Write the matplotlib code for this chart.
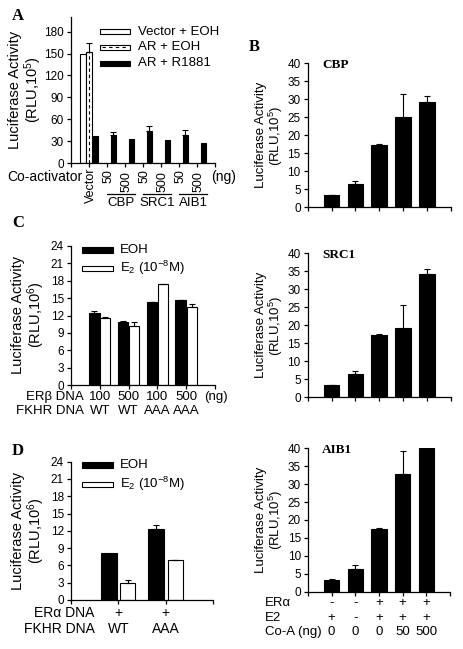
import matplotlib
matplotlib.use('Agg')
import matplotlib.pyplot as plt
from matplotlib.patches import Rectangle

plt.rcParams['font.family'] = ['Liberation Sans', 'DejaVu Sans']
plt.rcParams['mathtext.fontset'] = 'custom'
plt.rcParams['mathtext.rm'] = 'Liberation Sans'
plt.rcParams['mathtext.it'] = 'Liberation Sans:italic'

# --- panel A: AR + co-activators
a_labels = ['Vector', '50', '500', '50', '500', '50', '500']
a_groups = ['CBP', 'SRC1', 'AIB1']
a_vector_eoh = [150]
a_ar_eoh = [152]
a_ar_eoh_err = [13]
a_ar_r1881 = [37, 38, 33, 44, 31, 38, 27]
a_ar_r1881_err = [0, 5, 0, 7, 0, 7, 0]

# --- panel B: ERa + co-activators (CBP / SRC1 / AIB1)
b_cbp = [3.3, 6.4, 17.4, 25.0, 29.3]
b_cbp_err = [0.2, 1.0, 0.3, 6.6, 1.7]
b_src1 = [3.3, 6.4, 17.4, 19.2, 34.2]
b_src1_err = [0.2, 1.0, 0.3, 6.4, 1.5]
b_aib1 = [3.3, 6.4, 17.4, 32.7, 40.0]
b_aib1_err = [0.2, 1.0, 0.3, 6.6, 0]
b_er_alpha = ['-', '-', '+', '+', '+']
b_e2 = ['+', '-', '+', '+', '+']
b_coa = ['0', '0', '0', '50', '500']

# --- panel C: ERb
c_eoh = [12.4, 10.8, 14.3, 14.6]
c_eoh_err = [0.3, 0.2, 0.1, 0.1]
c_e2 = [11.6, 10.2, 17.4, 13.5]
c_e2_err = [0.2, 0.6, 0.1, 0.4]
c_er_beta = ['100', '500', '100', '500']
c_fkhr = ['WT', 'WT', 'AAA', 'AAA']

# --- panel D: ERa
d_eoh = [8.2, 12.4]
d_eoh_err = [0, 0.6]
d_e2 = [2.9, 6.9]
d_e2_err = [0.5, 0.1]
d_er_alpha = ['+', '+']
d_fkhr = ['WT', 'AAA']

W, H = 463, 649
fig = plt.figure(figsize=(W / 100, H / 100), dpi=100)


def box(l, t, r, b):
    return [l / W, 1 - b / H, (r - l) / W, (b - t) / H]


def ftext(x, y, s, **kw):
    fig.text(x / W, 1 - y / H, s, **kw)


def fpatch(l, t, r, b, fc):
    fig.patches.append(Rectangle((l / W, 1 - b / H), (r - l) / W, (b - t) / H,
                                 transform=fig.transFigure, facecolor=fc,
                                 edgecolor='black', lw=0.8))


def style(ax, yticks, ylim, xlim, xticks):
    for s in ['top', 'right']:
        ax.spines[s].set_visible(False)
    for s in ['left', 'bottom']:
        ax.spines[s].set_linewidth(0.9)
    ax.set_ylim(*ylim)
    ax.set_xlim(*xlim)
    ax.set_yticks(yticks)
    ax.set_xticks(xticks)
    ax.set_xticklabels([])
    ax.tick_params(direction='out', length=3, width=0.9, labelsize=8.5, pad=2)


def errs(ax, x, y, e):
    for xi, yi, ei in zip(x, y, e):
        if ei > 0:
            ax.errorbar([xi], [yi], yerr=[[0], [ei]], fmt='none', ecolor='black',
                        elinewidth=0.8, capsize=2.2, capthick=0.8)


def ylabel(x, y, power, size):
    ftext(x, y, 'Luciferase Activity\n(RLU,10$^{%d}$)' % power, rotation=90,
          ha='center', va='center', fontsize=size, linespacing=1.05,
          multialignment='center')


# ================= panel A
axA = fig.add_axes(box(71, 17, 215, 163))
style(axA, range(0, 181, 30), (0, 200), (-1, 7), range(-1, 8))
xa = list(range(len(a_labels)))
axA.bar([x - 0.33 for x in xa[:1]], a_vector_eoh, 0.29, color='white', edgecolor='black', lw=0.8)
axA.bar(xa[:1], a_ar_eoh, 0.29, color='white', edgecolor='black', lw=0.8)
for x, h in zip(xa[:1], a_ar_eoh):
    axA.plot([x, x], [0, h], color='black', lw=0.8, dashes=(3, 2.5))
errs(axA, xa[:1], a_ar_eoh, a_ar_eoh_err)
xb = [x + 0.36 for x in xa]
axA.bar(xb, a_ar_r1881, 0.28, color='black', edgecolor='black', lw=0.8)
errs(axA, xb, a_ar_r1881, a_ar_r1881_err)

tA = axA.get_xaxis_transform()
for i, lab in enumerate(a_labels):
    top = -0.03 if i == 0 else (-0.04 if lab == '50' else -0.055)
    axA.text(i + 0.1, top, lab, rotation=90, ha='center', va='top',
             fontsize=9, transform=tA)
for k, g in enumerate(a_groups):
    s = 1 + 2 * k
    axA.plot([s, s + 1.55], [-0.215, -0.215], color='black', lw=0.9,
             transform=tA, clip_on=False)
    axA.text(s + 0.8, -0.275, g, ha='center', va='center', fontsize=9.5, transform=tA)
axA.text(-0.35, -0.096, 'Co-activator', ha='right', va='center', fontsize=10, transform=tA)
axA.text(7.45, -0.096, '(ng)', ha='center', va='center', fontsize=10, transform=tA)
ylabel(26, 90, 5, 10.5)

# legend A
fpatch(100, 29.5, 130, 34, 'white')
fpatch(100, 45, 130, 49.5, 'white')
fig.add_artist(plt.Line2D([102 / W, 128 / W], [1 - 47.3 / H, 1 - 47.3 / H],
                          color='black', lw=0.8, dashes=(3, 3)))
fpatch(100, 60.5, 130, 65.5, 'black')
ftext(138, 32, 'Vector + EOH', va='center', fontsize=9.5)
ftext(138, 47.5, 'AR + EOH', va='center', fontsize=9.5)
ftext(138, 63, 'AR + R1881', va='center', fontsize=9.5)
ftext(18, 16, 'A', ha='center', va='center', fontsize=12, fontweight='bold',
      family='Liberation Serif')

# ================= panel B (three charts)
xr = [1, 2, 3, 4, 5]
right = [(b_cbp, b_cbp_err, 'CBP', (307.7, 63.3, 450.7, 207.3)),
         (b_src1, b_src1_err, 'SRC1', (307.7, 253.3, 450.7, 397.3)),
         (b_aib1, b_aib1_err, 'AIB1', (308, 448.3, 450, 591.7))]
for vals, ev, name, bb in right:
    ax = fig.add_axes(box(*bb))
    style(ax, range(0, 41, 5), (0, 40), (0, 6), range(0, 7))
    ax.bar(xr, vals, 0.66, color='black', edgecolor='black', lw=0.8)
    errs(ax, xr, vals, ev)
    ax.text(0.6, 39.5, name, ha='left', va='center', fontsize=9.5, fontweight='bold',
            family='Liberation Serif')
    ylabel(270, (bb[1] + bb[3]) / 2, 5, 9.5)
axB3 = ax
tB = axB3.get_xaxis_transform()
rows = [('ER\u03b1', b_er_alpha, -0.079), ('E2', b_e2, -0.184), ('Co-A (ng)', b_coa, -0.282)]
for lab, vals, yy in rows:
    axB3.text(-1.81, yy, lab, ha='left', va='center', fontsize=9.5, transform=tB)
    for x, v in zip(xr, vals):
        axB3.text(x, yy, v, ha='center', va='center', fontsize=9.5, transform=tB)
ftext(254, 47, 'B', ha='center', va='center', fontsize=12, fontweight='bold',
      family='Liberation Serif')

# ================= panel C
axC = fig.add_axes(box(71, 246, 215, 385))
style(axC, range(0, 25, 3), (0, 24), (0, 5), range(0, 6))
xc = [1, 2, 3, 4]
axC.bar([x - 0.19 for x in xc], c_eoh, 0.37, color='black', edgecolor='black', lw=0.8)
axC.bar([x + 0.19 for x in xc], c_e2, 0.35, color='white', edgecolor='black', lw=0.8)
errs(axC, [x - 0.19 for x in xc], c_eoh, c_eoh_err)
errs(axC, [x + 0.19 for x in xc], c_e2, c_e2_err)
tC = axC.get_xaxis_transform()
axC.text(0.45, -0.087, 'ER\u03b2 DNA', ha='right', va='center', fontsize=9.5, transform=tC)
axC.text(0.45, -0.19, 'FKHR DNA', ha='right', va='center', fontsize=9.5, transform=tC)
for x, a, b in zip(xc, c_er_beta, c_fkhr):
    axC.text(x, -0.087, a, ha='center', va='center', fontsize=9.5, transform=tC)
    axC.text(x, -0.19, b, ha='center', va='center', fontsize=9.5, transform=tC)
axC.text(5.03, -0.087, '(ng)', ha='center', va='center', fontsize=9.5, transform=tC)
ylabel(29, 315, 6, 10.5)
fpatch(82, 247, 113, 253, 'black')
fpatch(82, 265.5, 113, 270.5, 'white')
ftext(120, 250, 'EOH', va='center', fontsize=9.5)
ftext(120, 268, 'E$_2$ (10$^{-8}$M)', va='center', fontsize=9.5)
ftext(18, 223, 'C', ha='center', va='center', fontsize=12, fontweight='bold',
      family='Liberation Serif')

# ================= panel D
axD = fig.add_axes(box(71, 461.7, 213, 600))
style(axD, range(0, 25, 3), (0, 24), (0, 3), range(0, 4))
xd = [1, 2]
axD.bar([x - 0.2 for x in xd], d_eoh, 0.34, color='black', edgecolor='black', lw=0.8)
axD.bar([x + 0.2 for x in xd], d_e2, 0.32, color='white', edgecolor='black', lw=0.8)
errs(axD, [x - 0.2 for x in xd], d_eoh, d_eoh_err)
errs(axD, [x + 0.2 for x in xd], d_e2, d_e2_err)
tD = axD.get_xaxis_transform()
axD.text(0.5, -0.094, 'ER\u03b1 DNA', ha='right', va='center', fontsize=10, transform=tD)
axD.text(0.5, -0.21, 'FKHR DNA', ha='right', va='center', fontsize=10, transform=tD)
for x, a, b in zip(xd, d_er_alpha, d_fkhr):
    axD.text(x, -0.094, a, ha='center', va='center', fontsize=10, transform=tD)
    axD.text(x, -0.21, b, ha='center', va='center', fontsize=10, transform=tD)
ylabel(29, 531, 6, 10.5)
fpatch(82, 462, 113, 468, 'black')
fpatch(82, 481.5, 113, 486.5, 'white')
ftext(120, 465, 'EOH', va='center', fontsize=9.5)
ftext(120, 484, 'E$_2$ (10$^{-8}$M)', va='center', fontsize=9.5)
ftext(18, 451, 'D', ha='center', va='center', fontsize=12, fontweight='bold',
      family='Liberation Serif')

fig.savefig('out.png', dpi=100)
